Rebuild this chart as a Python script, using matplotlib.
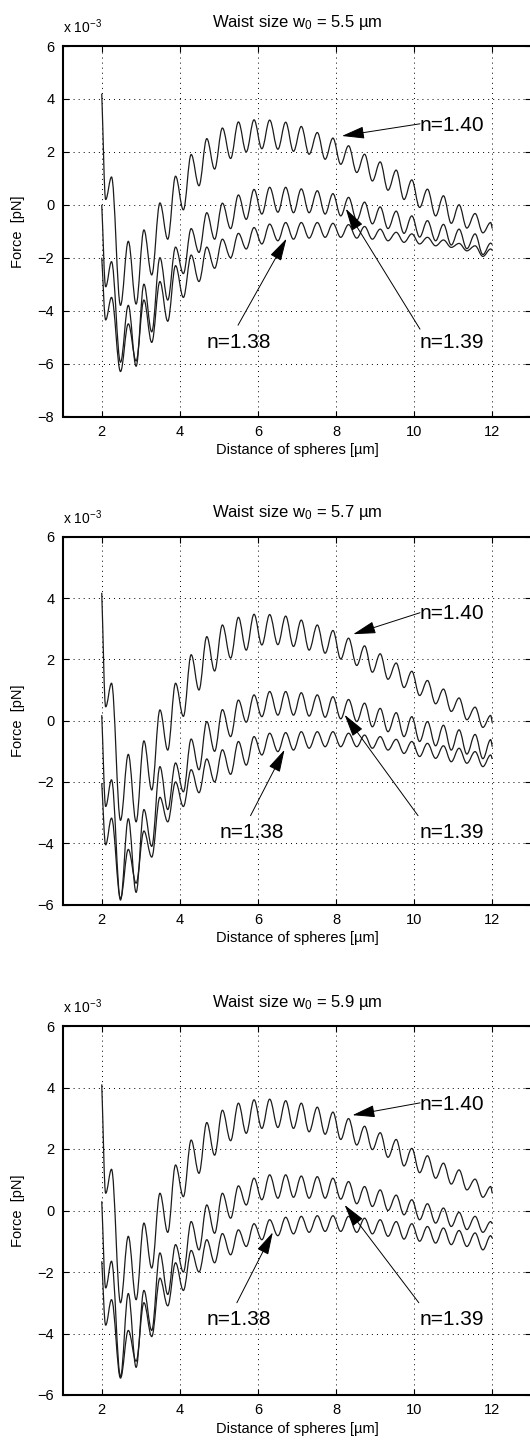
import matplotlib
matplotlib.use("Agg")
import matplotlib.pyplot as plt
from matplotlib.path import Path
from matplotlib.patches import PathPatch

plt.rcParams['font.family'] = ['Liberation Sans', 'DejaVu Sans']
plt.rcParams['mathtext.fontset'] = 'custom'
plt.rcParams['mathtext.rm'] = 'Liberation Sans'
plt.rcParams['mathtext.it'] = 'Liberation Sans'

# ---------------- data ----------------
# x positions of the start point, every local extremum, and the end point (um)
x_extrema = [2.00, 2.10, 2.25, 2.48, 2.68, 2.88, 3.08, 3.28, 3.49, 3.69, 3.89, 4.09,
             4.29, 4.49, 4.69, 4.89, 5.09, 5.30, 5.50, 5.70, 5.90, 6.10, 6.30, 6.51,
             6.71, 6.91, 7.11, 7.31, 7.52, 7.72, 7.92, 8.12, 8.32, 8.53, 8.73, 8.93,
             9.13, 9.33, 9.54, 9.74, 9.94, 10.14, 10.34, 10.55, 10.75, 10.95, 11.15,
             11.35, 11.56, 11.76, 11.96, 12.00]

# Force values (x 1e-3 pN) at those points
# waist 5.5 um
f140_w55 = [4.2, 0.2, 1.05, -3.8, -1.38, -3.75, -0.95, -2.65, 0.07, -1.3, 1.08, -0.19,
            1.9, 0.72, 2.5, 1.35, 2.9, 1.75, 3.13, 2.0, 3.21, 2.12, 3.2, 2.1,
            3.12, 2.02, 2.96, 1.91, 2.73, 1.72, 2.52, 1.53, 2.23, 1.22, 1.91, 0.9,
            1.62, 0.55, 1.31, 0.2, 0.94, -0.1, 0.59, -0.42, 0.34, -0.7, 0.0,
            -0.88, -0.33, -1.06, -0.67, -0.9]
f139_w55 = [0.0, -3.1, -2.15, -5.95, -3.8, -6.1, -3.0, -4.8, -2.0, -3.6, -1.6, -2.6,
            -0.9, -1.8, -0.3, -1.3, 0.06, -0.9, 0.37, -0.55, 0.58, -0.35, 0.66, -0.28,
            0.66, -0.3, 0.6, -0.3, 0.53, -0.35, 0.42, -0.42, 0.28, -0.58, 0.1, -0.72,
            -0.08, -0.9, -0.24, -1.08, -0.42, -1.22, -0.6, -1.36, -0.74, -1.52, -0.92,
            -1.66, -1.1, -1.88, -1.45, -1.5]
f138_w55 = [-2.0, -4.35, -3.5, -6.3, -4.5, -5.9, -3.6, -5.2, -2.9, -4.4, -2.3, -3.5,
            -1.9, -2.9, -1.6, -2.4, -1.3, -2.0, -1.08, -1.67, -0.86, -1.48, -0.73, -1.36,
            -0.67, -1.3, -0.67, -1.26, -0.67, -1.23, -0.7, -1.23, -0.75, -1.26, -0.82, -1.3,
            -0.92, -1.36, -1.04, -1.42, -1.1, -1.48, -1.23, -1.55, -1.33, -1.61, -1.46,
            -1.74, -1.55, -1.95, -1.67, -1.72]
# waist 5.7 um
f140_w57 = [4.17, 0.45, 1.22, -3.25, -1.1, -3.3, -0.66, -2.26, 0.35, -0.96, 1.22, 0.14,
            2.15, 1.0, 2.74, 1.62, 3.12, 2.04, 3.37, 2.3, 3.47, 2.47, 3.46, 2.48,
            3.41, 2.42, 3.28, 2.3, 3.12, 2.2, 2.94, 2.01, 2.69, 1.8, 2.44, 1.58,
            2.18, 1.35, 1.88, 1.08, 1.61, 0.82, 1.31, 0.55, 1.03, 0.3, 0.74,
            0.03, 0.44, -0.22, 0.17, -0.07]
f139_w57 = [0.18, -2.8, -1.93, -5.85, -3.2, -5.6, -2.9, -4.1, -1.5, -2.9, -1.38, -2.32,
            -0.6, -1.6, -0.03, -1.0, 0.36, -0.52, 0.67, -0.05, 0.84, 0.13, 0.95, 0.18,
            0.95, 0.18, 0.91, 0.15, 0.84, 0.11, 0.78, 0.06, 0.69, -0.03, 0.57, -0.2,
            0.4, -0.36, 0.26, -0.52, 0.13, -0.68, -0.03, -0.82, -0.15, -0.96, -0.3,
            -1.09, -0.45, -1.24, -0.62, -0.85]
f138_w57 = [-2.04, -4.05, -3.18, -5.8, -4.2, -5.3, -3.6, -4.45, -2.5, -3.3, -2.0, -2.8,
            -1.6, -2.35, -1.25, -2.0, -0.95, -1.75, -0.68, -1.45, -0.52, -1.12, -0.41, -1.01,
            -0.39, -0.96, -0.36, -0.9, -0.36, -0.85, -0.36, -0.85, -0.41, -0.85, -0.47, -0.9,
            -0.52, -0.96, -0.61, -1.07, -0.68, -1.17, -0.74, -1.23, -0.82, -1.34, -0.9,
            -1.39, -1.01, -1.5, -1.12, -1.25]
# waist 5.9 um
f140_w59 = [4.1, 0.56, 1.34, -3.0, -0.84, -2.9, -0.41, -1.87, 0.56, -0.71, 1.48, 0.45,
            2.29, 1.21, 2.86, 1.8, 3.26, 2.27, 3.49, 2.51, 3.6, 2.67, 3.62, 2.7,
            3.57, 2.67, 3.49, 2.56, 3.36, 2.48, 3.2, 2.31, 2.99, 2.13, 2.74, 1.98,
            2.53, 1.73, 2.31, 1.45, 2.02, 1.23, 1.78, 1.05, 1.54, 0.86, 1.32,
            0.67, 1.02, 0.43, 0.78, 0.56]
f139_w59 = [0.3, -2.52, -1.65, -5.4, -2.7, -5.1, -2.6, -3.9, -1.38, -2.73, -1.11, -2.0,
            -0.36, -1.28, 0.18, -0.74, 0.56, -0.25, 0.8, 0.18, 1.05, 0.35, 1.16, 0.4,
            1.16, 0.43, 1.12, 0.4, 1.1, 0.4, 1.05, 0.37, 0.94, 0.22, 0.78, 0.13,
            0.67, 0.0, 0.5, -0.14, 0.35, -0.3, 0.22, -0.41, 0.08, -0.52, -0.06,
            -0.62, -0.19, -0.71, -0.36, -0.43]
f138_w59 = [-1.65, -3.73, -2.9, -5.45, -3.9, -4.9, -3.0, -4.1, -2.2, -3.1, -1.7, -2.6,
            -1.3, -2.0, -0.95, -1.7, -0.75, -1.44, -0.63, -1.17, -0.43, -0.95, -0.3, -0.82,
            -0.22, -0.76, -0.19, -0.71, -0.17, -0.68, -0.17, -0.68, -0.19, -0.71, -0.25, -0.76,
            -0.3, -0.84, -0.36, -0.93, -0.43, -1.0, -0.52, -1.06, -0.57, -1.11, -0.65,
            -1.17, -0.73, -1.28, -0.82, -0.9]

waist_sizes = ['5.5', '5.7', '5.9']
x_ticks = [2, 4, 6, 8, 10, 12]
y_ticks_list = [[-8, -6, -4, -2, 0, 2, 4, 6], [-6, -4, -2, 0, 2, 4, 6], [-6, -4, -2, 0, 2, 4, 6]]
curves_list = [[f140_w55, f139_w55, f138_w55],
               [f140_w57, f139_w57, f138_w57],
               [f140_w59, f139_w59, f138_w59]]


def extrema_path(xs, ys):
    """Smooth path through the extrema: horizontal tangents at interior extrema."""
    n = len(xs)
    verts = [(xs[0], ys[0])]
    codes = [Path.MOVETO]
    c = 0.364
    for i in range(n - 1):
        x0, y0, x1, y1 = xs[i], ys[i], xs[i + 1], ys[i + 1]
        dx = x1 - x0
        s = (y1 - y0) / dx
        m0 = s if i == 0 else 0.0
        m1 = s if i + 1 == n - 1 else 0.0
        verts += [(x0 + c * dx, y0 + m0 * c * dx), (x1 - c * dx, y1 - m1 * c * dx), (x1, y1)]
        codes += [Path.CURVE4, Path.CURVE4, Path.CURVE4]
    return Path(verts, codes)


W, H = 530, 1446
fig = plt.figure(figsize=(W / 100, H / 100), dpi=100)

ax_left_px, ax_right_px = 62.7, 531.3
panel_px = [(46.0, 416.5), (536.7, 904.6), (1026.0, 1395.0)]
ylims = [(-8, 6), (-6, 6), (-6, 6)]

# annotation layout (data coords): (text xy, arrow tail, arrow tip)
ann_layout = [
    {'1.40': ((10.15, 2.98), (10.15, 3.06), (8.15, 2.6)),
     '1.39': ((10.15, -5.2), (10.15, -4.7), (8.25, -0.15)),
     '1.38': ((4.68, -5.2), (5.49, -4.55), (6.73, -1.28))},
    {'1.40': ((10.15, 3.5), (10.15, 3.52), (8.44, 2.82)),
     '1.39': ((10.15, -3.66), (10.1, -3.1), (8.22, 0.19)),
     '1.38': ((5.02, -3.66), (5.81, -3.1), (6.68, -0.95))},
    {'1.40': ((10.15, 3.46), (10.15, 3.5), (8.42, 3.1)),
     '1.39': ((10.15, -3.55), (10.12, -3.0), (8.22, 0.18)),
     '1.38': ((4.69, -3.55), (5.46, -3.0), (6.38, -0.71))},
]

for k in range(3):
    top_px, bot_px = panel_px[k]
    ax = fig.add_axes([ax_left_px / W, 1 - bot_px / H,
                       (ax_right_px - ax_left_px) / W, (bot_px - top_px) / H])
    ax.set_xlim(1, 13)
    ax.set_ylim(*ylims[k])
    ax.set_xticks(x_ticks)
    ax.set_yticks(y_ticks_list[k])
    ax.set_axisbelow(True)
    ax.grid(True, color='black', linestyle=(0, (1, 4.2)), linewidth=0.7)
    for sp in ax.spines.values():
        sp.set_linewidth(1.5)
    ax.tick_params(direction='in', top=True, right=True, length=4, width=0.8,
                   labelsize=10.5, pad=6)
    ax.tick_params(axis='y', pad=6)

    for ys in curves_list[k]:
        assert len(ys) == len(x_extrema)
        ax.add_patch(PathPatch(extrema_path(x_extrema, ys), fill=False,
                               edgecolor='#1c1c1c', linewidth=0.9))

    ax.set_title('Waist size w$\\mathregular{_0}$ = ' + waist_sizes[k] + ' \u00b5m',
                 fontsize=12, pad=14)
    ax.text(0.0, 1.027, 'x 10$\\mathregular{^{-3}}$', transform=ax.transAxes,
            ha='left', va='bottom', fontsize=10)
    ax.set_xlabel('Distance of spheres [\u00b5m]', fontsize=10.5, labelpad=3)
    ax.set_ylabel('Force  [pN]', fontsize=10.5)
    ax.yaxis.set_label_coords(-0.080, 0.5)

    for label, (txy, tail, tip) in ann_layout[k].items():
        ax.text(txy[0], txy[1], 'n=' + label, fontsize=15, ha='left', va='center')
        ax.annotate('', xy=tip, xytext=tail,
                    arrowprops=dict(arrowstyle='-|>,head_length=1.4,head_width=0.38',
                                    color='black', lw=0.7, shrinkA=0, shrinkB=0))

fig.savefig('out.png', dpi=100)
